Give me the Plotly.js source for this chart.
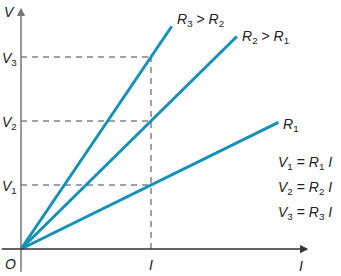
<!DOCTYPE html>
<html>
<head>
<meta charset="utf-8">
<script src="https://cdn.plot.ly/plotly-3.0.1.min.js"></script>
<style>html,body{margin:0;padding:0;background:#fff}#chart{width:341px;height:276px}</style>
</head>
<body>
<div id="chart"></div>
<script>
// Resistances (slopes V/I) for R1, R2, R3
const resistances = [1, 2, 3];
// Current value where each line ends
const lineEndCurrent = [1.98, 1.66, 1.16];
// Line labels
const lineLabels = ['<i>R</i><sub>1</sub>', '<i>R</i><sub>2</sub> > <i>R</i><sub>1</sub>', '<i>R</i><sub>3</sub> > <i>R</i><sub>2</sub>'];
// The reference current I
const currentI = 1;
// Tick labels
const voltageTickLabels = ['<i>V</i><sub>1</sub>', '<i>V</i><sub>2</sub>', '<i>V</i><sub>3</sub>'];
const currentTickLabel = '<i>I</i>';
const originLabel = '<i>O</i>';
const xAxisLabel = '<i>I</i>';
const yAxisLabel = '<i>V</i>';
const formulas = [
  '<i>V</i><sub>1</sub> = <i>R</i><sub>1</sub> <i>I</i>',
  '<i>V</i><sub>2</sub> = <i>R</i><sub>2</sub> <i>I</i>',
  '<i>V</i><sub>3</sub> = <i>R</i><sub>3</sub> <i>I</i>'
];

const blue = '#1590b9';
const dashColor = '#444';
const textFont = {family: 'Liberation Sans, Arial, sans-serif', size: 14, color: '#222'};

const voltages = resistances.map(r => r * currentI);
const traces = [];

// dashed guides
voltages.forEach(v => {
  traces.push({x: [0, currentI], y: [v, v], mode: 'lines', line: {color: dashColor, width: 1, dash: '6px,5px'}, hoverinfo: 'skip'});
});
traces.push({x: [currentI, currentI], y: [0, Math.max(...voltages)], mode: 'lines', line: {color: dashColor, width: 1, dash: '6px,5px'}, hoverinfo: 'skip'});

// resistor lines
resistances.forEach((r, i) => {
  traces.push({x: [0, lineEndCurrent[i]], y: [0, r * lineEndCurrent[i]], mode: 'lines', line: {color: blue, width: 3}, hoverinfo: 'skip'});
});

const annotations = [];
// axes with arrows
annotations.push({x: 0, y: 3.77, ax: 0, ay: -0.38, xref: 'x', yref: 'y', axref: 'x', ayref: 'y', text: '', showarrow: true, arrowhead: 2, arrowsize: 1.1, arrowwidth: 1.5, arrowcolor: '#777', standoff: 0});
annotations.push({x: 2.21, y: 0, ax: -0.16, ay: 0, xref: 'x', yref: 'y', axref: 'x', ayref: 'y', text: '', showarrow: true, arrowhead: 2, arrowsize: 1.1, arrowwidth: 1.5, arrowcolor: '#333', standoff: 0});

// line labels
const labelShift = [-3, 0, 6];
resistances.forEach((r, i) => {
  annotations.push({x: lineEndCurrent[i], y: r * lineEndCurrent[i], text: lineLabels[i], showarrow: false, xanchor: 'left', yanchor: 'middle', xshift: 3, yshift: labelShift[i], font: textFont});
});

// tick labels
voltages.forEach((v, i) => {
  annotations.push({x: 0, y: v, text: voltageTickLabels[i], showarrow: false, xanchor: 'right', yanchor: 'middle', xshift: -2, yshift: -2, font: textFont});
});
annotations.push({x: currentI, y: 0, text: currentTickLabel, showarrow: false, xanchor: 'center', yanchor: 'top', yshift: -6, font: textFont});
annotations.push({x: 0, y: 0, text: originLabel, showarrow: false, xanchor: 'right', yanchor: 'top', xshift: -3, yshift: -5, font: textFont});
annotations.push({x: 2.15, y: 0, text: xAxisLabel, showarrow: false, xanchor: 'center', yanchor: 'top', yshift: -7, font: textFont});
annotations.push({x: 0, y: 3.7, text: yAxisLabel, showarrow: false, xanchor: 'right', yanchor: 'middle', xshift: -4, font: textFont});

// formulas
const formulaY = [1.34, 0.95, 0.56];
formulas.forEach((f, i) => {
  annotations.push({x: 1.96, y: formulaY[i], text: f, showarrow: false, xanchor: 'left', yanchor: 'middle', font: textFont});
});

const layout = {
  width: 341, height: 276,
  margin: {l: 0, r: 0, t: 0, b: 0},
  paper_bgcolor: '#fff', plot_bgcolor: '#fff',
  showlegend: false,
  xaxis: {range: [-21/130, 320/130], visible: false, fixedrange: true},
  yaxis: {range: [-27/64, 249/64], visible: false, fixedrange: true},
  annotations: annotations
};

Plotly.newPlot('chart', traces, layout, {staticPlot: true});
</script>
</body>
</html>
